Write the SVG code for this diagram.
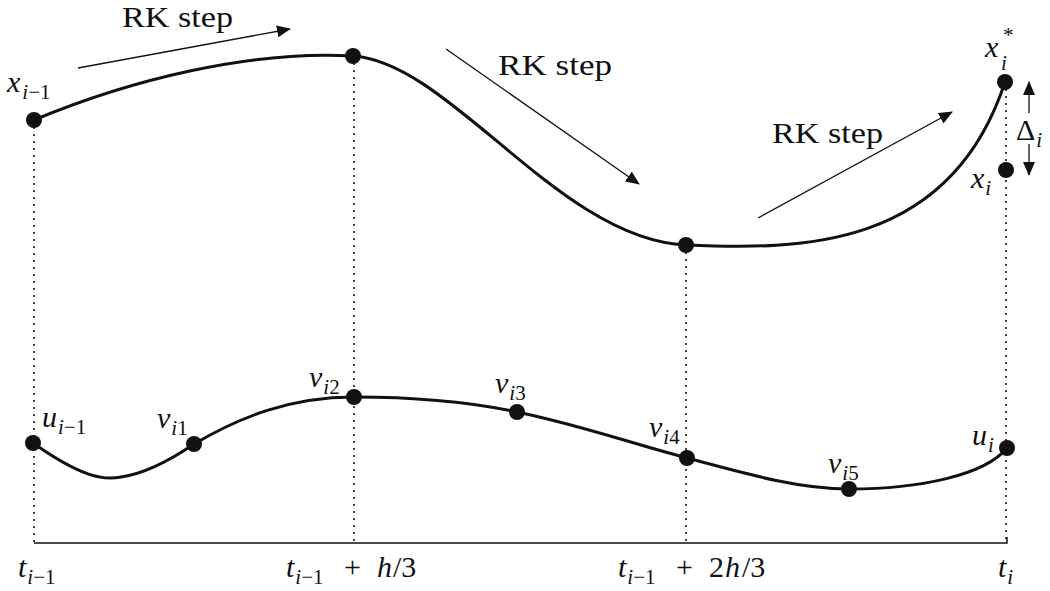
<svg xmlns="http://www.w3.org/2000/svg" width="1050" height="591" viewBox="0 0 1050 591">
<style>
text{font-family:"Liberation Serif","DejaVu Serif",serif;fill:#111}
.m{font-style:italic;font-size:30px}
.r{font-style:normal;font-size:30px}
.s{font-style:italic;font-size:21px}
.sr{font-style:normal;font-size:21px}
.curve{fill:none;stroke:#111;stroke-width:3}
.dot{stroke:none;fill:#111}
.dots{stroke:#111;stroke-width:1.6;stroke-dasharray:2 5;fill:none}
.arr{stroke:#111;stroke-width:1.3;fill:none;marker-end:url(#ah)}
</style>
<defs>
<marker id="ah" viewBox="0 0 14 12" refX="13" refY="6" markerWidth="14" markerHeight="12" markerUnits="userSpaceOnUse" orient="auto">
<path d="M0,0 L14,6 L0,12 Z" fill="#111"/>
</marker>
</defs>
<rect width="1050" height="591" fill="#fff"/>
<g id="grid">
<line class="dots" x1="34" y1="120" x2="34" y2="543"/>
<line class="dots" x1="354" y1="56" x2="354" y2="543"/>
<line class="dots" x1="686" y1="245" x2="686" y2="543"/>
<line class="dots" x1="1006" y1="82" x2="1006" y2="543"/>
<path d="M34,543 L1007,543 L1007,537" fill="none" stroke="#111" stroke-width="1.5"/>
</g>
<g id="connectors">
<path class="curve" d="M34,120 C130,80 250,50 353,56 C450,62 560,240 686,245 C800,250 950,250 1005,82"/>
<path class="curve" d="M33,443 C80,476 103,481 121,477 C148,473 175,457 194,444 C240,417 290,397 354,397 C420,397 470,402 517,412 C580,425 630,443 687,458 C750,475 800,489 849,489 C920,489 985,475 1007,448" stroke-width="2.6"/>
<line class="arr" x1="78" y1="68" x2="290" y2="29"/>
<line class="arr" x1="446" y1="49" x2="639" y2="184"/>
<line class="arr" x1="758" y1="218" x2="952" y2="112"/>
<line class="arr" x1="1029" y1="113" x2="1029" y2="82"/>
<line class="arr" x1="1029" y1="144" x2="1029" y2="175"/>
</g>
<g id="rk-labels">
<text class="r" x="122" y="27" font-size="27" textLength="111" lengthAdjust="spacingAndGlyphs">RK step</text>
<text class="r" x="498" y="75" font-size="27" textLength="114" lengthAdjust="spacingAndGlyphs">RK step</text>
<text class="r" x="772" y="143" font-size="27" textLength="111" lengthAdjust="spacingAndGlyphs">RK step</text>
</g>
<g id="node-x-im1">
<circle class="dot" cx="34" cy="120" r="8"/>
<text class="m" x="7" y="92">x<tspan class="s" dx="2" dy="7">i</tspan><tspan class="sr">−1</tspan></text>
</g>
<g id="node-top-mid1"><circle class="dot" cx="353" cy="56" r="8"/></g>
<g id="node-top-mid2"><circle class="dot" cx="686" cy="245" r="8"/></g>
<g id="node-x-star">
<circle class="dot" cx="1005" cy="82" r="8"/>
<text class="m" x="985" y="57">x<tspan class="sr" x="1003" y="42">*</tspan><tspan class="s" x="1001" y="70">i</tspan></text>
</g>
<g id="node-x-i">
<circle class="dot" cx="1006" cy="170" r="8"/>
<text class="m" x="971" y="188">x<tspan class="s" dx="1" dy="7">i</tspan></text>
</g>
<g id="delta">
<text class="r" x="1016" y="140">Δ<tspan class="s" dx="1" dy="7">i</tspan></text>
</g>
<g id="node-u-im1">
<circle class="dot" cx="33" cy="443" r="8"/>
<text class="m" x="42" y="427">u<tspan class="s" dx="1" dy="7">i</tspan><tspan class="sr">−1</tspan></text>
</g>
<g id="node-v1">
<circle class="dot" cx="194" cy="444" r="8"/>
<text class="m" x="157" y="428">v<tspan class="s" dx="1" dy="7">i</tspan><tspan class="sr">1</tspan></text>
</g>
<g id="node-v2">
<circle class="dot" cx="354" cy="397" r="8"/>
<text class="m" x="309" y="387">v<tspan class="s" dx="1" dy="7">i</tspan><tspan class="sr">2</tspan></text>
</g>
<g id="node-v3">
<circle class="dot" cx="517" cy="412" r="8"/>
<text class="m" x="495" y="393">v<tspan class="s" dx="1" dy="7">i</tspan><tspan class="sr">3</tspan></text>
</g>
<g id="node-v4">
<circle class="dot" cx="687" cy="458" r="8"/>
<text class="m" x="649" y="437">v<tspan class="s" dx="1" dy="7">i</tspan><tspan class="sr">4</tspan></text>
</g>
<g id="node-v5">
<circle class="dot" cx="849" cy="489" r="8"/>
<text class="m" x="828" y="473">v<tspan class="s" dx="1" dy="7">i</tspan><tspan class="sr">5</tspan></text>
</g>
<g id="node-u-i">
<circle class="dot" cx="1007" cy="448" r="8"/>
<text class="m" x="972" y="445">u<tspan class="s" dx="1" dy="7">i</tspan></text>
</g>
<g id="axis-labels">
<text class="m" x="18" y="577">t<tspan class="s" dx="1" dy="7">i</tspan><tspan class="sr">−1</tspan></text>
<text class="m" x="286" y="577">t<tspan class="s" dx="1" dy="7">i</tspan><tspan class="sr">−1</tspan><tspan class="r" x="344" y="577">+</tspan><tspan x="377">h</tspan><tspan class="r" x="393">/3</tspan></text>
<text class="m" x="618" y="577">t<tspan class="s" dx="1" dy="7">i</tspan><tspan class="sr">−1</tspan><tspan class="r" x="676" y="577">+</tspan><tspan class="r" x="709">2</tspan><tspan x="725">h</tspan><tspan class="r" x="742">/3</tspan></text>
<text class="m" x="998" y="577">t<tspan class="s" dx="1" dy="7">i</tspan></text>
</g>
</svg>
